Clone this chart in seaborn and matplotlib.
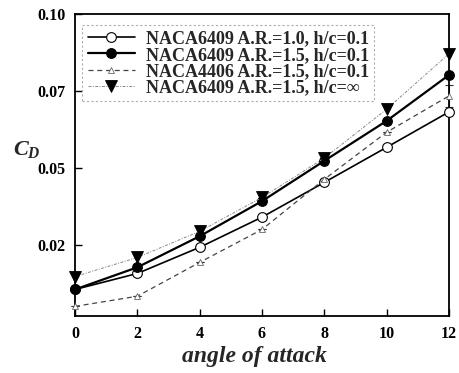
import matplotlib
matplotlib.use("Agg")
import matplotlib.pyplot as plt
import seaborn as sns
import pandas as pd
from matplotlib.ticker import FixedLocator, FixedFormatter

# Drag coefficient versus angle of attack
alpha = [0, 2, 4, 6, 8, 10, 12]
cd_6409_ar10 = [0.0104, 0.0156, 0.0241, 0.0339, 0.0452, 0.0566, 0.0681]
cd_6409_ar15 = [0.0104, 0.0176, 0.0277, 0.0391, 0.0522, 0.0652, 0.0801]
cd_4406_ar15 = [0.0049, 0.0082, 0.0192, 0.0299, 0.0462, 0.0615, 0.0733]
cd_4406_err = [0, 0, 0, 0, 0, 0, 0.0035]
cd_6409_inf = [0.0146, 0.0208, 0.0293, 0.0403, 0.0531, 0.0690, 0.0870]

labels = [
    "NACA6409 A.R.=1.0, h/c=0.1",
    "NACA6409 A.R.=1.5, h/c=0.1",
    "NACA4406 A.R.=1.5, h/c=0.1",
    "NACA6409 A.R.=1.5, h/c=\u221e",
]

ytick_vals = [0.025, 0.05, 0.075, 0.10]
ytick_labels = ["0.02", "0.05", "0.07", "0.10"]
xtick_vals = [0, 2, 4, 6, 8, 10, 12]

sns.set_style("ticks")
plt.rcParams["font.family"] = ["Liberation Serif", "DejaVu Serif"]
plt.rcParams["font.weight"] = "bold"
plt.rcParams["mathtext.fontset"] = "custom"
plt.rcParams["mathtext.it"] = "Liberation Serif:italic:bold"
plt.rcParams["mathtext.rm"] = "Liberation Serif:bold"

fig = plt.figure(figsize=(4.6, 3.73), dpi=100)
ax = fig.add_axes([0.163, 0.153, 0.813, 0.81])

styles = [
    dict(y=cd_6409_ar10, color="black", lw=1.2, ls="-", marker="o", ms=7,
         mfc="white", mec="black", mew=0.8),
    dict(y=cd_6409_ar15, color="black", lw=1.6, ls="-", marker="o", ms=7,
         mfc="black", mec="black", mew=0.8),
    dict(y=cd_4406_ar15, color="#444444", lw=0.9, ls=(0, (4, 3)), marker="^", ms=4,
         mfc="white", mec="#666666", mew=0.6),
    dict(y=cd_6409_inf, color="#888888", lw=0.7, ls=(0, (3, 1.5, 1, 1.5)), marker="v", ms=8,
         mfc="black", mec="black", mew=0.6),
]

handles = []
for st, lab in zip(styles, labels):
    df = pd.DataFrame({"alpha": alpha, "cd": st["y"]})
    sns.lineplot(data=df, x="alpha", y="cd", ax=ax, color=st["color"],
                 linewidth=st["lw"], linestyle=st["ls"], marker=st["marker"],
                 markersize=st["ms"], markerfacecolor=st["mfc"],
                 markeredgecolor=st["mec"], markeredgewidth=st["mew"],
                 clip_on=False, label=lab, legend=False, zorder=3)
    handles.append(ax.lines[-1])

# error bar on the NACA4406 series
ax.errorbar(alpha, cd_4406_ar15, yerr=cd_4406_err, fmt="none", ecolor="#333333",
            elinewidth=0.8, capsize=3, capthick=0.8, clip_on=False, zorder=2)

ax.set_xlim(0, 12)
ax.set_ylim(0.0018, 0.10)
ax.xaxis.set_major_locator(FixedLocator(xtick_vals))
ax.yaxis.set_major_locator(FixedLocator(ytick_vals))
ax.yaxis.set_major_formatter(FixedFormatter(ytick_labels))
ax.tick_params(direction="in", length=5, width=1, labelsize=11.5, colors="black", pad=7)
for lab in ax.get_xticklabels() + ax.get_yticklabels():
    lab.set_fontweight("bold")

for sp in ax.spines.values():
    sp.set_visible(True)
    sp.set_linewidth(1.3)
    sp.set_color("black")

ax.set_xlabel("angle of attack", fontsize=17, fontstyle="italic", fontweight="bold", labelpad=3)
ax.xaxis.set_label_coords(0.48, -0.1)
ax.set_ylabel(r"$C_D$", fontsize=16, rotation=0, ha="center", va="center")
ax.yaxis.set_label_coords(-0.13, 0.55)

leg = ax.legend(handles=handles, labels=labels, loc="upper left",
                bbox_to_anchor=(0.02, 0.962), frameon=True, fancybox=False,
                prop={"size": 13, "weight": "bold", "family": "Liberation Serif"},
                handlelength=2.6, handletextpad=0.6, labelspacing=-0.05,
                borderpad=0.3, borderaxespad=0.0)
leg.get_frame().set_edgecolor("#999999")
leg.get_frame().set_linestyle((0, (2, 2)))
leg.get_frame().set_linewidth(0.8)

fig.savefig("out.png", dpi=100)
